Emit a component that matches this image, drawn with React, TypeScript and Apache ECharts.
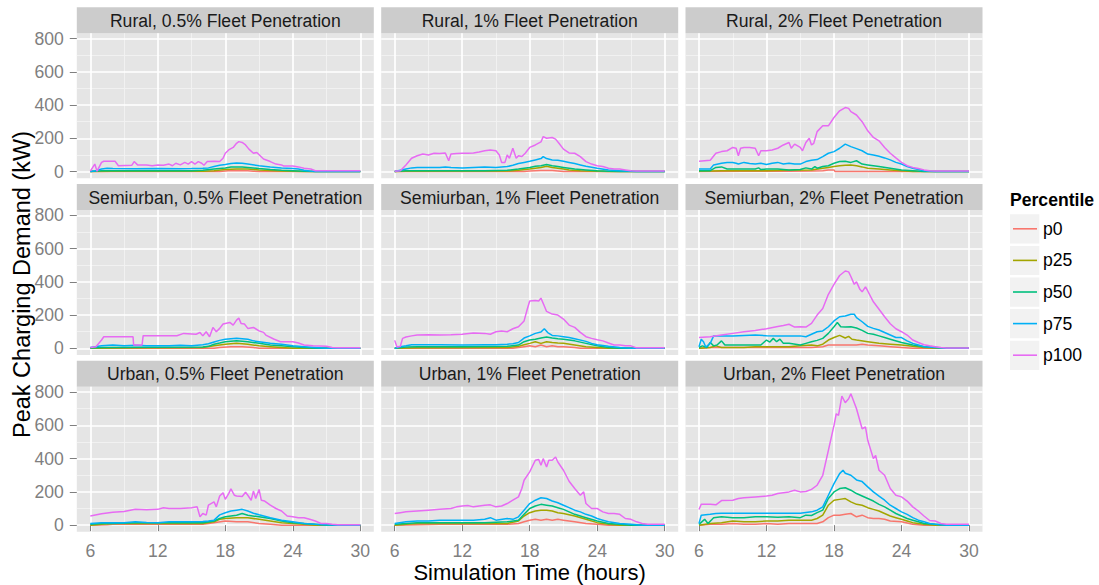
import React, { useEffect, useRef } from "react";
import * as echarts from "echarts";

type Pt = [number, number];

const PERCENTILES = ["p0", "p25", "p50", "p75", "p100"];
const COLORS = ["#F8766D", "#A3A500", "#00BF7D", "#00B0F6", "#E76BF3"];
const X_TICKS = [6, 12, 18, 24, 30];
const X_MINOR = [9, 15, 21, 27];
const Y_TICKS = [0, 200, 400, 600, 800];
const Y_MINOR = [100, 300, 500, 700];
const X_MIN = 4.8;
const X_MAX = 31.2;
const Y_MIN = -40;
const Y_MAX = 832;

// ---------- Rural, 0.5% ----------
const r05_p0: Pt[] = [[6,0],[17.5,0],[18,3],[18.5,6],[20,5],[20.5,2],[21,0],[30,0]];
const r05_p25: Pt[] = [[6,0],[8,2],[16,2],[17,5],[18,12],[19,15],[20,15],[21,10],[22,6],[23,4],[24,2],[25,0],[30,0]];
const r05_p50: Pt[] = [[6,0],[7,5],[10,5],[12,5],[15,5],[16,8],[17,15],[18,22],[18.5,28],[19.5,28],[20,25],[21,18],[22,12],[23,8],[24,5],[25,2],[26,0],[30,0]];
const r05_p75: Pt[] = [[6,0],[6.5,5],[7,15],[7.5,20],[8,18],[10,17],[12,18],[14,17],[15,18],[16,20],[16.5,22],[17,30],[17.5,38],[18,42],[18.5,48],[19,52],[19.5,50],[20,45],[21,35],[22,28],[23,22],[24,18],[24.5,15],[25,8],[25.5,3],[26,0],[30,0]];
const r05_p100: Pt[] = [[6,2],[6.4,45],[6.6,2],[7,55],[7.2,62],[8.2,62],[8.5,35],[9.7,38],[9.9,60],[10.2,40],[11,40],[11.5,35],[12,40],[12.5,38],[13,45],[13.3,35],[13.6,50],[14,40],[14.4,55],[14.7,45],[15,60],[15.3,45],[15.6,60],[15.9,50],[16.1,38],[16.4,60],[17,62],[17.5,60],[17.8,80],[18,110],[18.3,130],[18.7,145],[19,170],[19.2,180],[19.5,175],[19.8,160],[20.1,135],[20.5,110],[20.8,115],[21.1,95],[21.4,75],[22,60],[22.5,45],[23,40],[23.2,33],[24,33],[24.5,28],[25,20],[25.6,15],[26,5],[30,5]];

// ---------- Rural, 1% ----------
const r1_p0: Pt[] = [[6,0],[17.5,0],[18,4],[19,6],[20,6],[20.5,3],[21,0],[30,0]];
const r1_p25: Pt[] = [[6,0],[7,2],[16,3],[17,8],[18,15],[18.5,20],[19,25],[19.5,32],[20,25],[20.5,20],[21,15],[21.5,10],[22.5,5],[24,2],[25,0],[30,0]];
const r1_p50: Pt[] = [[6,0],[6.5,3],[7,5],[10,5],[14,5],[16,8],[17,15],[17.5,20],[18,25],[18.5,32],[19,35],[19.5,42],[20,35],[20.5,30],[21,25],[22,15],[23,10],[24,5],[25,2],[26,0],[30,0]];
const r1_p75: Pt[] = [[6,0],[6.5,8],[7,15],[7.5,22],[8,25],[9,25],[10,25],[10.5,28],[11,25],[12,22],[13,25],[14,28],[15,25],[15.5,28],[16,30],[16.5,38],[17,48],[17.5,55],[18,62],[18.5,70],[19,78],[19.2,90],[19.5,78],[20,70],[20.5,68],[21,62],[21.5,55],[22,48],[22.5,40],[23,32],[24,20],[25,10],[26,5],[27,2],[27.5,0],[30,0]];
const r1_p100: Pt[] = [[6,2],[6.5,5],[7,40],[7.5,80],[8,95],[8.5,105],[9,100],[9.5,110],[10,108],[10.5,112],[10.8,65],[11,105],[11.5,108],[12,110],[12.5,110],[13,112],[13.5,118],[14,125],[14.5,130],[15,125],[15.3,100],[15.5,55],[15.8,55],[16,100],[16.2,80],[16.5,140],[16.8,80],[17,95],[17.3,90],[17.6,110],[18,145],[18.5,160],[19,178],[19.2,210],[19.5,200],[20,205],[20.3,195],[20.6,170],[21,135],[21.5,112],[22,110],[22.5,90],[23,60],[23.5,45],[24,35],[24.5,30],[25,20],[25.5,15],[26,15],[26.5,10],[27,5],[27.5,3],[30,3]];

// ---------- Rural, 2% ----------
const r2_p0: Pt[] = [[6,0],[10,2],[14,2],[16,3],[17,5],[17.5,10],[18,10],[18.1,0],[30,0]];
const r2_p25: Pt[] = [[6,2],[8,5],[10,5],[12,5],[14,8],[16,10],[17,20],[17.5,25],[18,30],[18.5,35],[19,38],[19.5,40],[20,35],[20.5,28],[21,20],[22,15],[23,10],[24,5],[25,1],[26,0],[30,0]];
const r2_p50: Pt[] = [[6,5],[7,5],[7.5,25],[8,28],[8.5,15],[9,15],[10,15],[11,15],[11.3,22],[11.5,12],[12,15],[13,15],[14,10],[15,12],[15.5,22],[16,15],[16.3,30],[16.5,20],[17,30],[17.5,35],[18,50],[18.5,60],[19,62],[19.5,55],[20,65],[20.5,45],[21,40],[22,30],[23,20],[24,10],[25,5],[26,0],[30,0]];
const r2_p75: Pt[] = [[6,15],[7,15],[7.3,40],[8,50],[8.5,55],[9,55],[9.3,50],[9.5,45],[10,55],[10.5,48],[11,45],[11.5,50],[12,42],[12.5,50],[13,55],[13.5,45],[14,50],[14.5,45],[15,45],[15.5,60],[16,68],[16.5,72],[17,90],[17.5,110],[18,120],[18.5,140],[19,165],[19.5,150],[20,138],[20.5,125],[21,105],[21.5,100],[22,92],[22.5,82],[23,70],[23.5,55],[24,45],[24.5,30],[25,20],[25.5,12],[26,5],[26.5,2],[27,0],[30,0]];
const r2_p100: Pt[] = [[6,62],[7,68],[7.5,110],[8,120],[8.5,125],[9,145],[9.3,140],[9.5,95],[9.7,140],[10,145],[10.5,145],[11,140],[11.3,95],[11.5,125],[12,125],[12.5,130],[13,140],[13.5,160],[14,175],[14.2,140],[14.5,165],[15,145],[15.2,125],[15.5,175],[15.8,200],[16,160],[16.2,170],[16.5,240],[17,275],[17.5,275],[18,325],[18.5,365],[19,385],[19.3,380],[19.5,360],[20,340],[20.5,300],[21,245],[21.5,205],[22,185],[22.5,145],[23,110],[23.5,82],[24,55],[24.5,35],[25,25],[25.5,18],[26,10],[26.5,5],[27,3],[30,3]];

// ---------- Semiurban, 0.5% ----------
const s05_p0: Pt[] = [[6,0],[17,0],[17.5,5],[18.5,10],[19.5,10],[20.5,5],[21,0],[30,0]];
const s05_p25: Pt[] = [[6,0],[10,3],[16,5],[17,15],[18,25],[19,30],[20,25],[21,15],[22,10],[23,5],[24,0],[30,0]];
const s05_p50: Pt[] = [[6,2],[7,5],[16,8],[16.5,12],[17,25],[17.5,32],[18,40],[19,45],[20,40],[21,30],[22,20],[23,15],[24,10],[25,5],[26,0],[30,0]];
const s05_p75: Pt[] = [[6,5],[7,15],[8,20],[9,15],[10,18],[11,15],[12,16],[13,15],[14,18],[15,15],[16,22],[16.5,28],[17,38],[17.5,48],[18,55],[18.5,58],[19,60],[19.5,58],[20,55],[20.5,45],[21,40],[22,30],[23,25],[24,15],[25,10],[26,5],[27,0],[30,0]];
const s05_p100: Pt[] = [[6,5],[6.5,10],[7,50],[7.2,70],[9.8,70],[9.85,20],[10.6,20],[10.7,76],[13.7,76],[14.3,90],[15.4,85],[15.75,95],[16,75],[16.3,100],[16.6,70],[16.9,126],[17.2,100],[17.5,120],[17.8,146],[18.4,156],[18.7,140],[19,170],[19.2,182],[19.4,150],[19.7,146],[20,120],[20.5,126],[21,105],[21.4,96],[21.6,80],[22.3,56],[22.9,40],[24,40],[24.5,32],[25,20],[25.8,15],[27,12],[27.5,5],[28,3],[30,3]];

// ---------- Semiurban, 1% ----------
const s1_p0: Pt[] = [[6,0],[16.5,0],[17,5],[17.5,10],[18,15],[18.5,10],[19,20],[19.5,10],[20,15],[20.5,10],[21,10],[22,5],[22.5,0],[30,0]];
const s1_p25: Pt[] = [[6,0],[8,3],[16,5],[17,12],[17.5,22],[18,30],[18.5,40],[19,30],[19.5,40],[20,35],[20.5,32],[21,30],[22,20],[23,10],[24,5],[25,0],[30,0]];
const s1_p50: Pt[] = [[6,0],[7,8],[8,10],[12,10],[16,12],[17,20],[17.5,40],[18,50],[18.5,55],[19,62],[19.5,68],[20,62],[20.5,58],[21,55],[22,45],[23,30],[24,15],[25,5],[26,1],[26.5,0],[30,0]];
const s1_p75: Pt[] = [[6,0],[6.5,10],[7,15],[7.5,22],[8,22],[10,22],[12,20],[14,22],[15,22],[16,25],[16.5,28],[17,35],[17.5,62],[18,75],[18.5,90],[19,98],[19.3,118],[19.6,95],[20,78],[20.5,75],[21,70],[21.5,65],[22,58],[23,42],[23.5,30],[24,22],[25,12],[26,5],[27,1],[27.5,0],[30,0]];
const s1_p100: Pt[] = [[6,48],[6.2,8],[6.5,12],[6.7,60],[7,68],[7.5,75],[8,80],[9,82],[10,80],[11,82],[12,85],[13,92],[14,90],[14.5,85],[15,100],[15.5,105],[16,100],[16.5,118],[17,130],[17.5,165],[17.8,240],[18,285],[18.5,288],[18.8,285],[19,302],[19.3,255],[19.5,222],[20,206],[20.5,200],[21,176],[21.5,140],[22,126],[22.5,96],[23,70],[23.5,60],[24,52],[24.5,45],[25,32],[25.5,20],[26,20],[26.5,15],[27,15],[27.5,3],[30,3]];

// ---------- Semiurban, 2% ----------
const s2_p0: Pt[] = [[6,0],[7,5],[16,5],[17,10],[17.5,20],[20,20],[20.5,25],[21,20],[22,15],[23,10],[24,5],[25,0],[30,0]];
const s2_p25: Pt[] = [[6,0],[7,5],[7.5,15],[8,5],[9,5],[10,5],[11,10],[12,10],[13,10],[14,10],[15,15],[16,20],[16.5,15],[17,25],[17.5,50],[18,65],[18.5,78],[19,62],[19.3,72],[19.6,55],[20,50],[21,40],[22,30],[23,25],[24,20],[25,12],[26,5],[27,0],[30,0]];
const s2_p50: Pt[] = [[6,5],[6.3,15],[6.7,5],[7,35],[7.3,15],[7.6,20],[8,45],[8.3,20],[9,20],[10,20],[11,20],[11.5,20],[12,50],[12.3,38],[12.6,60],[12.9,40],[13.2,55],[13.5,30],[14,30],[15,20],[15.5,30],[16,40],[16.5,48],[17,60],[17.5,90],[18,130],[18.3,155],[18.6,130],[19,128],[19.5,130],[20,122],[20.5,108],[21,90],[21.5,85],[22,75],[22.5,65],[23,55],[24,35],[25,20],[26,10],[27,5],[28,0],[30,0]];
const s2_p75: Pt[] = [[6,10],[6.2,55],[6.4,40],[6.6,8],[7,30],[7.3,75],[8,75],[9,75],[10,78],[11,80],[12,76],[13,75],[14,75],[15,75],[15.5,70],[16,85],[16.5,100],[17,105],[17.5,130],[18,165],[18.5,190],[19,195],[19.5,205],[19.8,205],[20,185],[20.5,160],[21,132],[21.5,120],[22,110],[22.5,95],[23,80],[23.5,65],[24,65],[24.5,45],[25,30],[25.5,20],[26,10],[27,5],[28,0],[30,0]];
const s2_p100: Pt[] = [[6,65],[7,70],[8,80],[9,90],[10,100],[11,108],[12,118],[13,132],[13.5,138],[14,145],[14.5,128],[15,130],[15.5,128],[16,150],[16.5,200],[17,240],[17.5,325],[18,385],[18.5,438],[19,465],[19.3,460],[19.5,432],[19.8,385],[20,400],[20.3,355],[20.5,340],[20.8,370],[21,345],[21.5,280],[22,235],[22.5,190],[23,148],[23.5,118],[24,100],[24.5,80],[25,50],[25.5,35],[26,22],[26.5,15],[27,10],[27.5,5],[28,2],[30,2]];

// ---------- Urban, 0.5% ----------
const u05_p0: Pt[] = [[6,0],[7.5,2],[8,5],[16,5],[16.5,10],[17,15],[18,25],[19,20],[20,20],[21,10],[22,5],[23,0],[30,0]];
const u05_p25: Pt[] = [[6,0],[7,5],[8,10],[16,10],[17,20],[17.5,35],[18,40],[19,45],[20,45],[21,35],[22,25],[23,15],[24,10],[25,5],[26,0],[30,0]];
const u05_p50: Pt[] = [[6,5],[7,10],[8,10],[10,15],[12,15],[14,15],[16,15],[17,25],[17.5,40],[18,50],[19,60],[19.5,70],[20,60],[21,50],[22,40],[23,25],[24,15],[25,10],[26,5],[27,0],[30,0]];
const u05_p75: Pt[] = [[6,10],[7,15],[8,15],[9,15],[10,20],[11,16],[12,15],[13,20],[14,20],[15,20],[16,22],[16.5,25],[17,30],[17.5,62],[18,75],[18.5,85],[19,90],[19.5,95],[20,85],[20.5,72],[21,62],[22,45],[23,30],[24,20],[25,10],[26,5],[27,2],[28,0],[30,0]];
const u05_p100: Pt[] = [[6,55],[7,68],[8,78],[9,82],[10,95],[11,92],[12,95],[12.5,105],[13,100],[14,100],[15,105],[15.5,110],[15.75,50],[16,70],[16.3,60],[16.5,120],[17,140],[17.2,110],[17.5,175],[17.8,195],[18,155],[18.3,190],[18.5,218],[18.8,180],[19,175],[19.5,172],[19.8,198],[20,180],[20.3,150],[20.5,205],[20.7,160],[21,215],[21.2,150],[21.5,145],[22,120],[22.5,100],[23,85],[23.5,55],[24,50],[24.5,45],[25,45],[25.5,35],[26,25],[26.5,10],[27,10],[27.5,5],[28,2],[30,2]];

// ---------- Urban, 1% ----------
const u1_p0: Pt[] = [[6,0],[8,3],[10,5],[16,5],[17,10],[17.5,20],[18,30],[18.5,35],[19,30],[19.5,35],[20,30],[20.5,35],[21,30],[22,20],[23,10],[24,5],[25,0],[30,0]];
const u1_p25: Pt[] = [[6,0],[7,5],[8,10],[16,10],[17,25],[17.5,55],[18,75],[18.5,85],[19,90],[19.5,90],[20,85],[20.5,75],[21,70],[22,55],[23,35],[24,15],[25,5],[26,0],[30,0]];
const u1_p50: Pt[] = [[6,5],[7,10],[8,15],[10,15],[12,15],[14,15],[16,20],[17,30],[17.5,65],[18,100],[18.5,115],[19,125],[19.5,120],[20,115],[20.5,105],[21,95],[21.5,80],[22,65],[22.5,55],[23,45],[24,25],[25,10],[26,5],[27,0],[30,0]];
const u1_p75: Pt[] = [[6,10],[7,20],[8,25],[9,25],[10,30],[11,30],[12,30],[13,30],[14,35],[14.5,45],[15,30],[16,40],[16.5,35],[17,50],[17.5,90],[18,130],[18.5,150],[19,165],[19.5,160],[20,145],[20.5,135],[21,120],[21.5,105],[22,90],[22.5,80],[23,65],[23.5,55],[24,40],[24.5,30],[25,20],[26,10],[27,5],[28,0],[30,0]];
const u1_p100: Pt[] = [[6,70],[6.5,75],[7,80],[8,85],[9,90],[10,95],[11,100],[11.5,110],[12,115],[12.5,118],[13,110],[13.5,115],[14,120],[14.5,122],[15,110],[15.5,115],[16,130],[16.5,150],[17,170],[17.3,220],[17.5,270],[18,320],[18.5,390],[18.8,395],[19,360],[19.2,400],[19.5,350],[19.7,390],[20,390],[20.3,410],[20.5,380],[21,330],[21.5,264],[22,220],[22.5,180],[22.8,200],[23,130],[23.5,100],[24,100],[24.5,80],[25,70],[25.5,70],[26,65],[26.5,40],[27,35],[27.5,20],[28,10],[28.5,5],[30,5]];

// ---------- Urban, 2% ----------
const u2_p0: Pt[] = [[6,0],[7,5],[8,5],[9,10],[10,5],[11,5],[12,10],[13,5],[14,10],[15,10],[16,10],[16.5,10],[17,20],[17.5,45],[18,60],[18.5,60],[19,65],[19.5,70],[20,50],[20.5,60],[21,45],[21.5,40],[22,40],[22.5,35],[23,25],[24,20],[25,5],[26,0],[30,0]];
const u2_p25: Pt[] = [[6,0],[7,10],[8,15],[9,25],[10,20],[11,20],[12,25],[13,25],[14,30],[15,30],[16,30],[16.5,40],[17,60],[17.5,120],[18,150],[18.5,155],[19,160],[19.5,140],[20,125],[20.5,120],[21,105],[21.5,95],[22,85],[22.5,70],[23,55],[23.5,45],[24,35],[24.5,25],[25,15],[26,5],[27,0],[30,0]];
const u2_p50: Pt[] = [[6,5],[6.5,35],[6.8,10],[7.3,45],[8,50],[9,45],[10,45],[11,50],[12,50],[13,48],[14,50],[15,45],[15.5,60],[16,58],[16.5,75],[17,90],[17.5,160],[18,200],[18.5,220],[19,225],[19.5,210],[20,190],[20.5,175],[21,160],[21.5,145],[22,125],[22.5,110],[23,90],[23.5,70],[24,55],[24.5,40],[25,30],[25.5,20],[26,10],[27,5],[28,0],[30,0]];
const u2_p75: Pt[] = [[6,10],[6.2,60],[7,65],[7.5,70],[8,72],[12,72],[15,72],[16,80],[16.5,90],[17,110],[17.5,180],[18,250],[18.5,310],[18.8,330],[19,312],[19.5,300],[20,272],[20.5,262],[21,230],[21.5,200],[22,175],[22.5,150],[23,120],[23.5,100],[24,80],[24.5,65],[25,45],[25.5,30],[26,20],[26.5,10],[27,5],[27.5,2],[28,0],[30,0]];
const u2_p100: Pt[] = [[6,94],[6.2,126],[7,125],[7.5,122],[8,148],[9,150],[9.5,160],[10,165],[11,170],[12,175],[12.5,180],[13,190],[13.5,195],[14,200],[14.5,210],[15,200],[15.5,202],[16,215],[16.5,240],[17,300],[17.5,450],[18,600],[18.2,670],[18.4,660],[18.7,776],[19,736],[19.3,760],[19.5,790],[20,700],[20.5,580],[20.8,590],[21,510],[21.5,400],[21.7,420],[22,330],[22.5,300],[23,220],[23.5,180],[24,170],[24.5,145],[25,110],[25.5,85],[26,55],[26.5,28],[27,25],[27.5,10],[28,5],[30,5]];

const FACET_TITLES = [
  "Rural, 0.5% Fleet Penetration",
  "Rural, 1% Fleet Penetration",
  "Rural, 2% Fleet Penetration",
  "Semiurban, 0.5% Fleet Penetration",
  "Semiurban, 1% Fleet Penetration",
  "Semiurban, 2% Fleet Penetration",
  "Urban, 0.5% Fleet Penetration",
  "Urban, 1% Fleet Penetration",
  "Urban, 2% Fleet Penetration",
];
const FACET_SERIES: Pt[][][] = [
  [r05_p0, r05_p25, r05_p50, r05_p75, r05_p100],
  [r1_p0, r1_p25, r1_p50, r1_p75, r1_p100],
  [r2_p0, r2_p25, r2_p50, r2_p75, r2_p100],
  [s05_p0, s05_p25, s05_p50, s05_p75, s05_p100],
  [s1_p0, s1_p25, s1_p50, s1_p75, s1_p100],
  [s2_p0, s2_p25, s2_p50, s2_p75, s2_p100],
  [u05_p0, u05_p25, u05_p50, u05_p75, u05_p100],
  [u1_p0, u1_p25, u1_p50, u1_p75, u1_p100],
  [u2_p0, u2_p25, u2_p50, u2_p75, u2_p100],
];

const X_TITLE = "Simulation Time (hours)";
const Y_TITLE = "Peak Charging Demand (kW)";
const LEGEND_TITLE = "Percentile";

// layout
const FONT = "'Liberation Sans', Arial, Helvetica, sans-serif";
const COL_LEFT = [76.8, 381.2, 685.5];
const PANEL_W = 297;
const ROW_TOP = [33.2, 210, 386.8];
const PANEL_H = 145;
const STRIP_H = 26;
const TICK_FS = 17.6;
const GREY = "#7f7f7f";

export default function App() {
  const ref = useRef<HTMLDivElement>(null);
  useEffect(() => {
    if (!ref.current) return;
    const chart = echarts.init(ref.current, undefined, { renderer: "svg" });

    const grids: any[] = [];
    const xAxes: any[] = [];
    const yAxes: any[] = [];
    const series: any[] = [];
    const graphics: any[] = [];
    const n = FACET_TITLES.length;

    // minor axes first (indices 0..8), major axes (9..17)
    for (let i = 0; i < n; i++) {
      xAxes.push({
        type: "value", gridIndex: i, min: X_MIN, max: X_MAX, z: 0,
        axisLine: { show: false }, axisLabel: { show: false },
        axisTick: { show: false, customValues: X_MINOR },
        splitLine: { show: true, lineStyle: { color: "#f2f2f2", width: 0.9 } },
      });
      yAxes.push({
        type: "value", gridIndex: i, min: Y_MIN, max: Y_MAX, z: 0,
        axisLine: { show: false }, axisLabel: { show: false },
        axisTick: { show: false, customValues: Y_MINOR },
        splitLine: { show: true, lineStyle: { color: "#f2f2f2", width: 0.9 } },
      });
    }
    for (let i = 0; i < n; i++) {
      const r = Math.floor(i / 3);
      const c = i % 3;
      const left = COL_LEFT[c];
      const top = ROW_TOP[r];
      grids.push({
        left, top, width: PANEL_W, height: PANEL_H,
        show: true, backgroundColor: "#e5e5e5", borderWidth: 0,
      });
      xAxes.push({
        type: "value", gridIndex: i, min: X_MIN, max: X_MAX, z: 1, position: "bottom",
        axisLine: { show: false },
        axisTick: { show: r === 2, customValues: X_TICKS, length: 6, lineStyle: { color: GREY, width: 1 } },
        axisLabel: { show: r === 2, customValues: X_TICKS, color: GREY, fontSize: TICK_FS, fontFamily: FONT, margin: 12.5, lineHeight: 14 },
        splitLine: { show: true, lineStyle: { color: "#ffffff", width: 1.7 } },
      });
      yAxes.push({
        type: "value", gridIndex: i, min: Y_MIN, max: Y_MAX, z: 1, position: "left",
        axisLine: { show: false },
        axisTick: { show: c === 0, customValues: Y_TICKS, length: 7, lineStyle: { color: GREY, width: 1 } },
        axisLabel: { show: c === 0, customValues: Y_TICKS, color: GREY, fontSize: TICK_FS, fontFamily: FONT, margin: 13 },
        splitLine: { show: true, lineStyle: { color: "#ffffff", width: 1.7 } },
      });
      FACET_SERIES[i].forEach((data, k) => {
        series.push({
          type: "line",
          name: PERCENTILES[k],
          xAxisIndex: n + i,
          yAxisIndex: n + i,
          data,
          showSymbol: false,
          symbol: "none",
          silent: true,
          lineStyle: { width: 1.5, color: COLORS[k] },
          itemStyle: { color: COLORS[k] },
          z: 3,
        });
      });
      // strip
      graphics.push({
        type: "rect",
        shape: { x: left, y: top - STRIP_H, width: PANEL_W, height: STRIP_H },
        style: { fill: "#cccccc" },
        silent: true,
      });
      graphics.push({
        type: "text",
        x: left + PANEL_W / 2,
        y: top - STRIP_H / 2 + 0.5,
        style: {
          text: FACET_TITLES[i], fill: "#1a1a1a", fontSize: TICK_FS, fontFamily: FONT,
          align: "center", verticalAlign: "middle", textAlign: "center", textVerticalAlign: "middle",
        },
        silent: true,
      });
    }

    // axis titles
    graphics.push({
      type: "text", x: 529.6, y: 572,
      style: {
        text: X_TITLE, fill: "#000000", fontSize: 22, fontFamily: FONT, lineHeight: 22,
        align: "center", verticalAlign: "middle", textAlign: "center", textVerticalAlign: "middle",
      },
      silent: true,
    });
    graphics.push({
      type: "text", x: 22, y: 284.5, rotation: Math.PI / 2,
      style: {
        text: Y_TITLE, fill: "#000000", fontSize: 23.5, fontFamily: FONT,
        align: "center", verticalAlign: "middle", textAlign: "center", textVerticalAlign: "middle",
      },
      silent: true,
    });
    // legend title and key backgrounds
    graphics.push({
      type: "text", x: 1010, y: 199.5,
      style: {
        text: LEGEND_TITLE, fill: "#000000", fontSize: TICK_FS, fontWeight: "bold", fontFamily: FONT,
        align: "left", verticalAlign: "middle", textAlign: "left", textVerticalAlign: "middle",
      },
      silent: true,
    });
    PERCENTILES.forEach((_, k) => {
      graphics.push({
        type: "rect",
        shape: { x: 1010, y: 214.3 + k * 31.6, width: 29.3, height: 29.2 },
        style: { fill: "#f2f2f2" },
        silent: true,
        z: -1,
      });
    });

    chart.setOption({
      animation: false,
      textStyle: { fontFamily: FONT },
      grid: grids,
      xAxis: xAxes,
      yAxis: yAxes,
      series,
      legend: {
        data: PERCENTILES,
        orient: "vertical",
        left: 1013,
        top: 218.8,
        padding: 0,
        icon: "rect",
        itemWidth: 24,
        itemHeight: 1.6,
        itemGap: 11.6,
        selectedMode: false,
        textStyle: { fontSize: TICK_FS, color: "#000000", fontFamily: FONT, lineHeight: 20, padding: [0, 0, 0, 1] },
      },
      graphic: graphics,
    });
    return () => chart.dispose();
  }, []);
  return (
    <div
      ref={ref}
      style={{ position: "fixed", left: 0, top: 0, width: 1099, height: 585, background: "#ffffff" }}
    />
  );
}
